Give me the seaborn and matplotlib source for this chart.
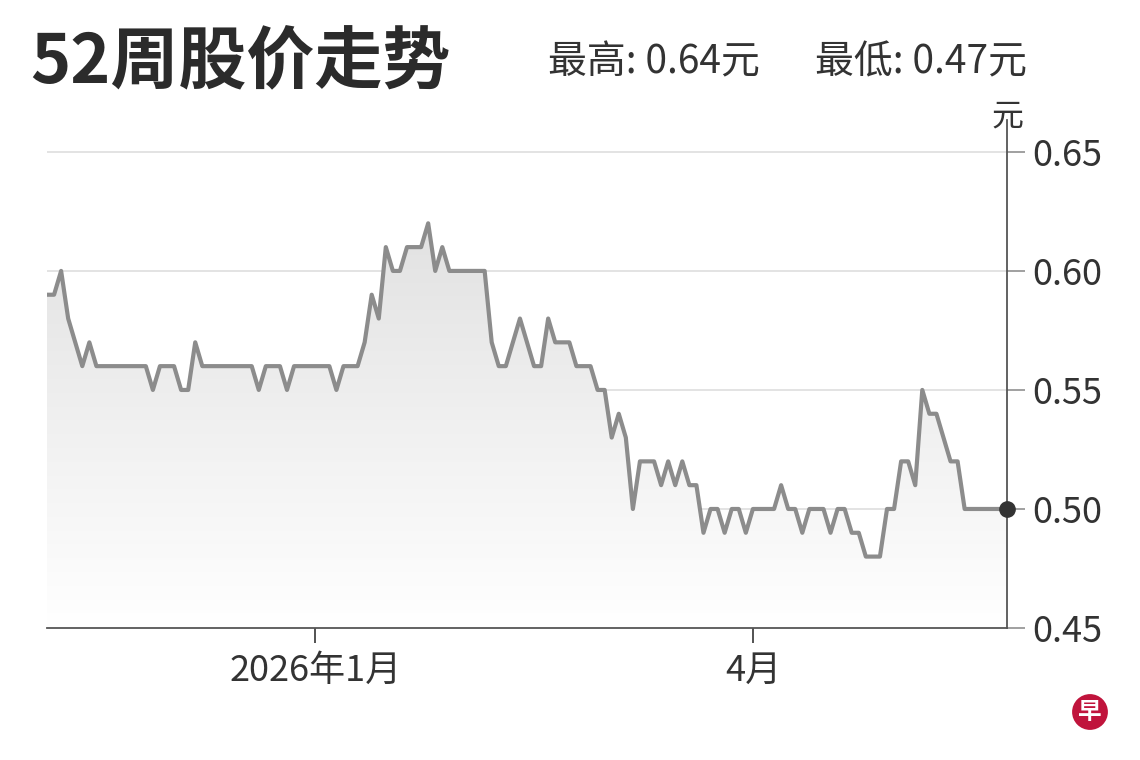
import numpy as np
import pandas as pd
import matplotlib
matplotlib.use('Agg')
import matplotlib.pyplot as plt
from matplotlib.colors import LinearSegmentedColormap
import seaborn as sns

sns.set_theme(style='white')
plt.rcParams['font.family'] = ['Noto Sans CJK SC', 'DejaVu Sans']

# closing price per trading day
prices = [
    0.59, 0.59, 0.60, 0.58, 0.57, 0.56, 0.57, 0.56, 0.56, 0.56,
    0.56, 0.56, 0.56, 0.56, 0.56, 0.55, 0.56, 0.56, 0.56, 0.55,
    0.55, 0.57, 0.56, 0.56, 0.56, 0.56, 0.56, 0.56, 0.56, 0.56,
    0.55, 0.56, 0.56, 0.56, 0.55, 0.56, 0.56, 0.56, 0.56, 0.56,
    0.56, 0.55, 0.56, 0.56, 0.56, 0.57, 0.59, 0.58, 0.61, 0.60,
    0.60, 0.61, 0.61, 0.61, 0.62, 0.60, 0.61, 0.60, 0.60, 0.60,
    0.60, 0.60, 0.60, 0.57, 0.56, 0.56, 0.57, 0.58, 0.57, 0.56,
    0.56, 0.58, 0.57, 0.57, 0.57, 0.56, 0.56, 0.56, 0.55, 0.55,
    0.53, 0.54, 0.53, 0.50, 0.52, 0.52, 0.52, 0.51, 0.52, 0.51,
    0.52, 0.51, 0.51, 0.49, 0.50, 0.50, 0.49, 0.50, 0.50, 0.49,
    0.50, 0.50, 0.50, 0.50, 0.51, 0.50, 0.50, 0.49, 0.50, 0.50,
    0.50, 0.49, 0.50, 0.50, 0.49, 0.49, 0.48, 0.48, 0.48, 0.50,
    0.50, 0.52, 0.52, 0.51, 0.55, 0.54, 0.54, 0.53, 0.52, 0.52,
    0.50, 0.50, 0.50, 0.50, 0.50, 0.50, 0.50,
]
month_ticks = [38, 100]          # trading-day index of the month starts
month_labels = ['2026年1月', '4月']
y_ticks = [0.45, 0.50, 0.55, 0.60, 0.65]

df = pd.DataFrame({'day': np.arange(len(prices)), 'price': prices})
last = len(prices) - 1

fig = plt.figure(figsize=(11.4, 7.6), dpi=100)
ax = fig.add_axes([47 / 1140, 1 - 628 / 760, 960 / 1140, 508 / 760])

# gradient fill under the line
grad = np.linspace(0, 1, 256).reshape(-1, 1)
cmap = LinearSegmentedColormap.from_list('g', ['#ffffff', '#e0e0e0'])
im = ax.imshow(grad, extent=[0, last, 0.45, 0.63], origin='lower',
               aspect='auto', cmap=cmap, zorder=1)
poly = ax.fill_between(df['day'], df['price'], 0.45, color='none', lw=0)
im.set_clip_path(poly.get_paths()[0], transform=ax.transData)

sns.lineplot(data=df, x='day', y='price', ax=ax, color='#8c8c8c',
             lw=3.0, zorder=3)
ax.plot(df['day'].iloc[-1], df['price'].iloc[-1], 'o', color='#333333',
        ms=11, zorder=5, clip_on=False)

ax.set_xlim(0, last)
ax.set_ylim(0.45, 0.6634)
ax.set_xlabel('')
ax.set_ylabel('')

ax.yaxis.tick_right()
ax.set_yticks(y_ticks)
ax.set_yticklabels([f'{v:.2f}' for v in y_ticks])
ax.tick_params(axis='y', right=True, left=False, length=13, width=1.3,
               color='#999999', pad=5, labelsize=26, labelcolor='#333333')
ax.set_xticks(month_ticks)
ax.set_xticklabels(month_labels)
ax.tick_params(axis='x', bottom=True, length=11, width=1.3, color='#444444',
               pad=7, labelsize=26, labelcolor='#333333')

ax.grid(axis='y', color='#e0e0e0', lw=1.3, zorder=0)
ax.grid(axis='x', visible=False)
for s in ['left', 'top']:
    ax.spines[s].set_visible(False)
ax.spines['bottom'].set_color('#555555')
ax.spines['bottom'].set_linewidth(1.3)
ax.spines['right'].set_color('#555555')
ax.spines['right'].set_linewidth(1.3)

fig.text(30 / 1140, 1 - 64 / 760, '52周股价走势', fontsize=49,
         weight='bold', color='#2b2b2b', va='center')
fig.text(548 / 1140, 1 - 62 / 760, '最高: 0.64元', fontsize=28,
         color='#333333', va='center')
fig.text(815 / 1140, 1 - 62 / 760, '最低: 0.47元', fontsize=28,
         color='#333333', va='center')
fig.text(1007 / 1140, 1 - 117 / 760, '元', fontsize=23, color='#333333',
         ha='center', va='center')

# logo
fig.text(1090 / 1140, 1 - 712 / 760, '早', fontsize=17, weight='bold',
         color='white', ha='center', va='center',
         bbox=dict(boxstyle='circle,pad=0.25', fc='#c0143c', ec='none'))

fig.savefig('out.png', dpi=100)
